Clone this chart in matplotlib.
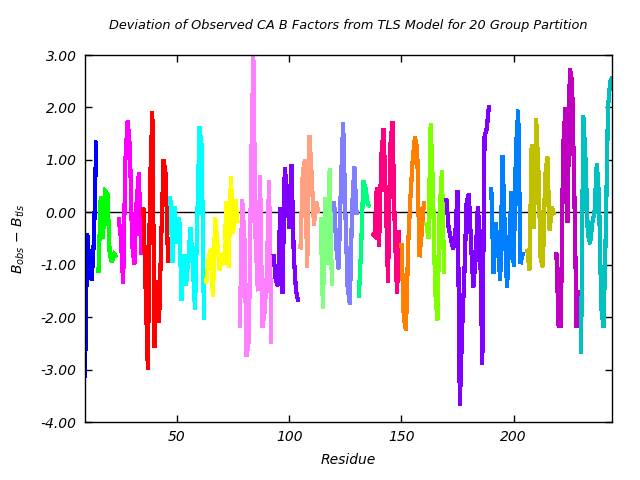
import numpy as np
import matplotlib
matplotlib.use('Agg')
import matplotlib.pyplot as plt

# TLS groups: first residue, colour, deviation per residue (B_obs - B_tls)
group_starts = [9, 15, 24, 35, 47, 63, 78, 93, 105, 114,
                120, 131, 137, 150, 161, 170, 190, 206, 219, 230]
group_colors = ['#0000ff', '#00ff00', '#ff00ff', '#ff0000', '#00ffff',
                '#ffff00', '#ff80ff', '#8000ff', '#ffa080', '#80ff80',
                '#8080ff', '#00ff80', '#ff0080', '#ff8000', '#80ff00',
                '#8000ff', '#0080ff', '#c0c000', '#c000c0', '#00c0c0']
group_values = [
    [-3.15, -0.4, -1.0, -1.3, -0.5, 1.36],
    [-1.15, 0.3, -0.5, 0.4, 0.35, -0.8, -0.95, -0.8, -0.85],
    [-0.1, -0.5, -1.35, 1.0, 1.75, 1.25, -0.6, -1.0, 0.2, 0.75, -0.8],
    [0.1, -1.45, -3.0, 0.55, 1.92, -2.57, -1.3, -2.1, -0.45, 1.0, 0.7, -0.95],
    [0.3, -0.95, 0.1, -0.6, -0.1, -1.68, -0.8, -1.4, -0.9, -0.3, -1.0, -1.85,
     -0.2, 1.63, 1.25, -2.05],
    [-1.35, -0.9, -0.7, -1.6, -0.1, -0.6, -1.1, -0.8, -1.0, 0.2, -1.05, 0.68,
     -0.4, 0.25, -0.2],
    [-2.2, 0.25, -0.45, -2.75, -2.45, 0.8, 3.0, -0.5, -1.5, 0.7, -2.2, -1.9,
     -1.2, 0.6, -2.5],
    [-0.8, -1.3, -1.4, 0.1, -1.55, 0.85, 0.4, -0.3, 0.92, -0.8, -1.5, -1.7],
    [-0.7, 0.75, 1.0, -1.05, 1.47, 0.7, -0.25, 0.2, 0.0],
    [-0.1, -1.84, 0.29, -1.0, 0.83, -1.39],
    [0.2, -0.7, -1.08, 0.5, 1.72, 0.0, -1.43, -1.75, 0.1, 0.87, -0.05],
    [-1.62, -0.7, 0.6, 0.45, 0.15, 0.12],
    [-0.4, -0.45, 0.48, -0.66, 1.06, 1.6, 0.3, -1.33, 1.25, 1.73, -0.3, -1.55,
     -0.35],
    [-0.6, -2.0, -2.25, -0.6, 0.3, 1.0, 1.44, 1.2, -0.85, -0.4, 0.2],
    [-0.2, -0.5, 1.69, 0.5, -1.5, -2.06, 0.0, 0.79, -1.17],
    [0.26, -0.3, -0.5, -0.7, -0.4, 0.42, -3.69, -2.25, -1.2, 0.17, 0.35, -0.6,
     -1.43, -0.9, 0.1, -0.5, -2.9, 1.44, 1.6, 2.04],
    [0.48, -1.17, -0.2, -0.7, -1.3, 1.09, -0.3, -1.43, -0.6, 0.4, -1.04, 1.22,
     1.95, -0.98, -0.8, -0.8],
    [-0.7, -1.1, 1.3, -0.3, 1.79, 0.8, -0.9, -1.04, 0.67, 1.06, -0.35, 0.1,
     -0.05],
    [-0.76, -2.16, -2.16, 1.2, 2.0, -0.2, 2.74, 2.5, 0.4, -2.19, -1.5],
    [-2.7, 1.85, 1.0, -0.4, -0.6, -0.2, 0.0, 0.93, 0.3, -1.81, -2.19, -0.4,
     2.0, 2.5, 2.58],
]

fig = plt.figure(figsize=(6.4, 4.8), dpi=100)
ax = fig.add_axes([0.1328, 0.1208, 0.8242, 0.7646])

ax.axhline(0, color='black', lw=1, zorder=1)

for start, col, vals in zip(group_starts, group_colors, group_values):
    x = np.arange(start, start + len(vals))
    ax.plot(x, vals, color=col, lw=2.3, antialiased=False,
            solid_joinstyle='miter', solid_capstyle='butt', zorder=2)

ax.set_xlim(9, 244)
ax.set_ylim(-4, 3)
ax.set_xticks([50, 100, 150, 200])
ax.set_yticks(np.arange(-4, 3.5, 1))
ax.yaxis.set_major_formatter(matplotlib.ticker.FormatStrFormatter('%.2f'))
ax.tick_params(direction='in', top=True, right=True, length=5, width=1,
               labelsize=10, pad=6)
for lab in ax.get_xticklabels() + ax.get_yticklabels():
    lab.set_fontstyle('italic')
for sp in ax.spines.values():
    sp.set_linewidth(1)

ax.set_xlabel('Residue', fontstyle='italic', fontsize=10, labelpad=6)
ax.set_ylabel(r'$B_{obs}$ $-$ $B_{tls}$', fontsize=10, labelpad=10)
ax.set_title('Deviation of Observed CA B Factors from TLS Model for 20 Group Partition',
             fontstyle='italic', fontsize=9.3, pad=19)

fig.savefig('out.png', dpi=100)
